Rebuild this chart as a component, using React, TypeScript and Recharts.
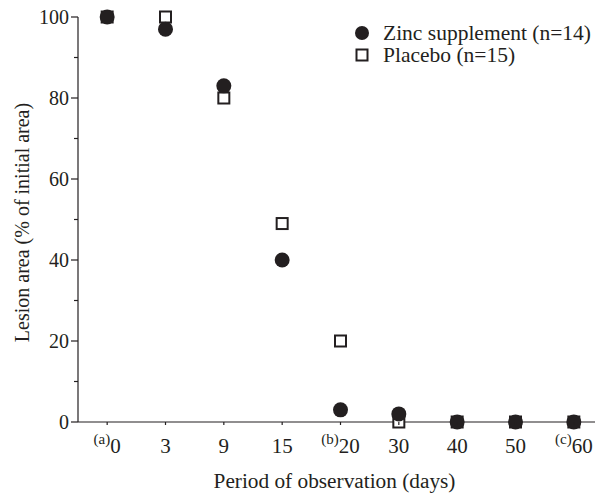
import React from 'react';
import { ScatterChart, Scatter, XAxis, YAxis, Legend, Label } from 'recharts';

const days = ['0', '3', '9', '15', '20', '30', '40', '50', '60'];
const notes = ['(a)', '', '', '', '(b)', '', '', '', '(c)'];
const zinc = [100, 97, 83, 40, 3, 2, 0, 0, 0];
const placebo = [100, 100, 80, 49, 20, 0, 0, 0, 0];
const yTicks = [0, 10, 20, 30, 40, 50, 60, 70, 80, 90, 100];

const zincName = 'Zinc supplement (n=14)';
const placeboName = 'Placebo (n=15)';

const zincData = days.map((d, i) => ({ idx: i, value: zinc[i] }));
const placeboData = days.map((d, i) => ({ idx: i, value: placebo[i] }));

const FONT = '"Liberation Serif", "Times New Roman", serif';
const INK = '#231f20';

const Dot = (props: any) => (
  <circle cx={props.cx} cy={props.cy} r={7.5} fill={INK} />
);

const Box = (props: any) => (
  <rect x={props.cx - 5.5} y={props.cy - 5.5} width={11} height={11} fill="#fff" stroke={INK} strokeWidth={2} />
);

const YTick = (props: any) => {
  const { x, y, payload } = props;
  const major = payload.value % 20 === 0;
  return (
    <g>
      <line x1={x - (major ? 7 : 4)} x2={x} y1={y} y2={y} stroke={INK} strokeWidth={1.2} />
      {major && (
        <text x={x - 9} y={y} dy="0.35em" textAnchor="end" fontSize={20} fontFamily={FONT} fill={INK}>
          {payload.value}
        </text>
      )}
    </g>
  );
};

const XTick = (props: any) => {
  const { x, y, payload } = props;
  const i = payload.value;
  return (
    <g>
      <line x1={x} x2={x} y1={y} y2={y + 3} stroke={INK} strokeWidth={1.2} />
      <text x={x} y={y + 31} textAnchor="middle" fontFamily={FONT} fill={INK}>
        {notes[i] && <tspan fontSize={15} dy={-9}>{notes[i]}</tspan>}
        <tspan fontSize={21} dy={notes[i] ? 9 : 0}>{days[i]}</tspan>
      </text>
    </g>
  );
};

const LegendBox = () => (
  <div style={{ fontFamily: FONT, fontSize: 21.5, color: INK, lineHeight: '22px' }}>
    <div style={{ display: 'flex', alignItems: 'center', height: 22 }}>
      <svg width={16} height={16} style={{ marginRight: 13 }}>
        <circle cx={8} cy={8} r={7} fill={INK} />
      </svg>
      {zincName}
    </div>
    <div style={{ display: 'flex', alignItems: 'center', height: 22 }}>
      <svg width={16} height={16} style={{ marginRight: 13 }}>
        <rect x={2.5} y={2.5} width={11} height={11} fill="#fff" stroke={INK} strokeWidth={2} />
      </svg>
      {placeboName}
    </div>
  </div>
);

export default function App() {
  return (
    <ScatterChart width={595} height={488} margin={{ top: 9, right: 0, bottom: 0, left: 0 }}>
      <XAxis
        type="number"
        dataKey="idx"
        domain={[-0.5, 8.5]}
        ticks={days.map((d, i) => i)}
        tick={<XTick />}
        tickSize={0}
        tickMargin={0}
        tickLine={false}
        height={74}
        stroke={INK}
        strokeWidth={1.2}
        interval={0}
      >
        <Label
          content={(p: any) => (
            <text
              x={p.viewBox.x + p.viewBox.width / 2 - 6}
              y={p.viewBox.y + 66}
              textAnchor="middle"
              fontSize={21.3}
              fontFamily={FONT}
              fill={INK}
            >
              Period of observation (days)
            </text>
          )}
        />
      </XAxis>
      <YAxis
        type="number"
        dataKey="value"
        domain={[0, 100]}
        ticks={yTicks}
        tick={<YTick />}
        tickSize={0}
        tickMargin={0}
        tickLine={false}
        width={70}
        stroke={INK}
        strokeWidth={1.2}
        interval={0}
      >
        <Label
          content={(p: any) => {
            const cx = p.viewBox.x + 14;
            const cy = p.viewBox.y + p.viewBox.height / 2 + 3;
            return (
              <text
                x={cx}
                y={cy}
                transform={`rotate(-90 ${cx} ${cy})`}
                textAnchor="middle"
                dominantBaseline="central"
                fontSize={20}
                fontFamily={FONT}
                fill={INK}
              >
                Lesion area (% of initial area)
              </text>
            );
          }}
        />
      </YAxis>
      <Legend
        layout="vertical"
        align="center"
        verticalAlign="middle"
        content={<LegendBox />}
        wrapperStyle={{ top: 14, left: 346, width: 260 }}
      />
      <Scatter name={placeboName} data={placeboData} shape={<Box />} isAnimationActive={false} />
      <Scatter name={zincName} data={zincData} shape={<Dot />} isAnimationActive={false} />
    </ScatterChart>
  );
}
